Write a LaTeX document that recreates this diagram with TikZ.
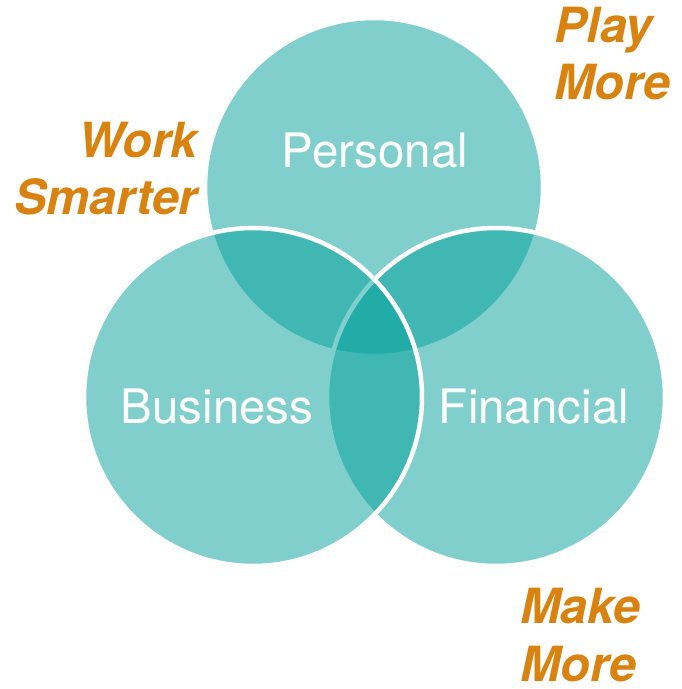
\documentclass[tikz,border=0pt]{standalone}
\usepackage{fontspec}
\setmainfont{TeX Gyre Heros}
\definecolor{vennteal}{RGB}{2,160,155}
\definecolor{tagorange}{RGB}{216,130,15}
\tikzset{
  venn/.style={circle, minimum size=338pt, inner sep=0pt, outer sep=0pt,
    fill=vennteal, fill opacity=0.5, draw=white, draw opacity=1, line width=4.5pt},
  areaname/.style={text=white, inner sep=0pt, anchor=base,
    font=\fontsize{47.5}{56}\selectfont},
  tagline/.style={text=tagorange, inner sep=0pt, text depth=0pt,
    font=\fontsize{48.5}{57.5}\selectfont\bfseries\itshape}
}
\begin{document}
\begin{tikzpicture}[x=1pt,y=-1pt]
\useasboundingbox (0,0) rectangle (682,689);
\node[venn] (personal) at (374,187) {};
\node[venn] (financial) at (496,397) {};
\node[venn] (business) at (253,397) {};
\node[areaname] (personallabel) at (375,167) {Personal};
\node[areaname] (businesslabel) at (217,423) {Business};
\node[areaname] (financiallabel) at (534,423) {Financial};
\node[tagline, align=left, anchor=base west] (play) at (554,99.5) {Play\\More};
\node[tagline, align=right, anchor=base east] (work) at (198,214.5) {Work\\Smarter};
\node[tagline, align=left, anchor=base west] (make) at (520,681) {Make\\More};
\end{tikzpicture}
\end{document}
